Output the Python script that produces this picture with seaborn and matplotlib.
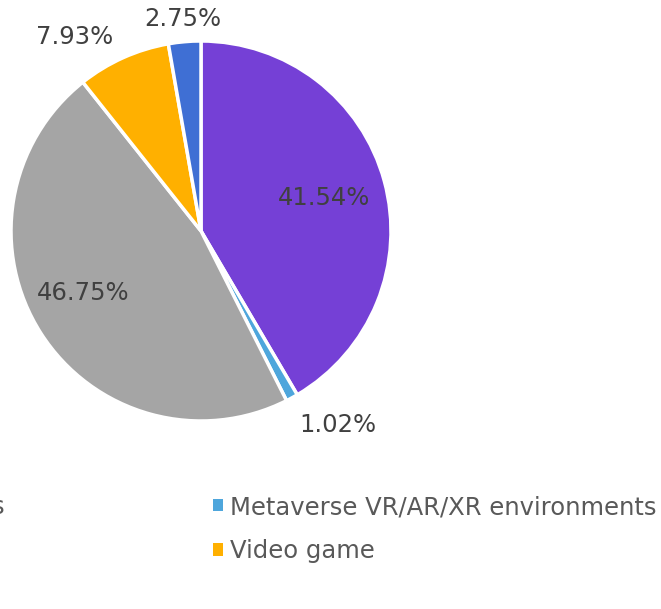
import numpy as np
import matplotlib
matplotlib.use("Agg")
from matplotlib import pyplot as plt
from matplotlib.patches import Patch
import seaborn as sns

# slices, clockwise from 12 o'clock
categories = ["Social media platforms", "Metaverse VR/AR/XR environments",
              "Websites", "Video game", "Others"]
shares = [41.54, 1.02, 46.75, 7.93, 2.75]
colours = ["#7540D6", "#4EA6DC", "#A5A5A5", "#FFB000", "#3F6FD4"]

# label placement (fraction of radius, angular nudge in degrees)
label_dist = [0.67, 1.25, 0.70, 1.22, 1.12]
label_nudge = [0, 6.5, -5, 9, 0]

sns.set_theme(style="white")
plt.rcParams['font.family'] = 'sans-serif'
plt.rcParams['font.sans-serif'] = ['DejaVu Sans']

fig = plt.figure(figsize=(6.61, 6.09), dpi=100)
ax = fig.add_axes([11 / 661, 188 / 609, 380 / 661, 380 / 609])

wedges, _ = ax.pie(shares, colors=sns.color_palette(colours), startangle=90,
                   counterclock=False,
                   wedgeprops=dict(edgecolor="white", linewidth=2.5))
ax.set_xlim(-1, 1)
ax.set_ylim(-1, 1)
ax.set_aspect("equal")

for w, val, d, nudge in zip(wedges, shares, label_dist, label_nudge):
    ang = np.deg2rad((w.theta1 + w.theta2) / 2 + nudge)
    ax.text(d * np.cos(ang), d * np.sin(ang), f"{val:.2f}%",
            ha="center", va="center", fontsize=17.5, color="#404040",
            clip_on=False)

# excel-style legend, row-major: 2 columns
order = [0, 2, 4, 1, 3]
handles = [Patch(facecolor=colours[i], edgecolor="none") for i in order]
labels = [categories[i] for i in order]
leg = fig.legend(handles, labels, ncol=2, loc="upper right",
                 bbox_to_anchor=(674 / 661, 1 - 478 / 609),
                 frameon=False, fontsize=17.5, labelcolor="#595959",
                 handlelength=0.4, handleheight=0.4, handletextpad=0.3,
                 columnspacing=8.6, labelspacing=0.83, borderpad=0.2)

fig.savefig("out.png", dpi=100)
